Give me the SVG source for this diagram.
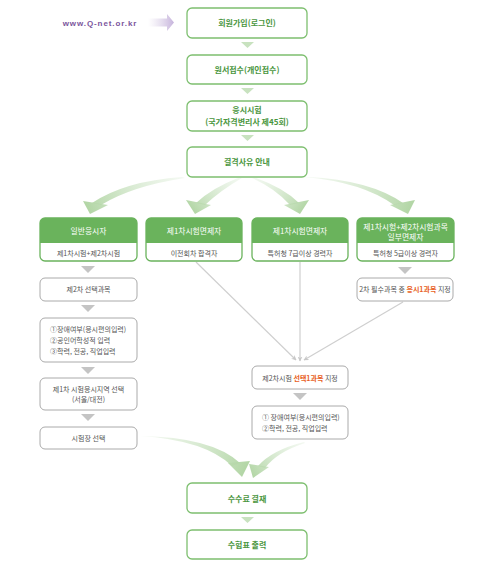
<svg xmlns="http://www.w3.org/2000/svg" width="500" height="567" viewBox="0 0 500 567">
<defs>
<style>
.gb{fill:#fff;stroke:#7dbf6f;stroke-width:1.3}
.gt{font-family:"Noto Sans CJK KR","Liberation Sans",sans-serif;font-size:8px;font-weight:bold;fill:#4a9640;text-anchor:middle}
.hb{fill:#fff;stroke:#6ab35c;stroke-width:1.3}
.hh{fill:#6ab35c}
.ht{font-family:"Noto Sans CJK KR","Liberation Sans",sans-serif;font-size:7.8px;fill:#fff;text-anchor:middle}
.st{font-family:"Noto Sans CJK KR","Liberation Sans",sans-serif;font-size:7px;fill:#555;text-anchor:middle}
.sl{font-family:"Noto Sans CJK KR","Liberation Sans",sans-serif;font-size:7px;fill:#555}
.ab{fill:#fff;stroke:#aaa;stroke-width:1}
.or{fill:#e8601c;font-weight:bold}
.tg{fill:#c8e2bf}
.tr{fill:#c4c4c4}
.ln{stroke:#cfcfcf;stroke-width:1.2;fill:none;marker-end:url(#ah)}
</style>
<marker id="ah" viewBox="0 0 10 10" refX="9" refY="5" markerWidth="5" markerHeight="5" orient="auto" markerUnits="userSpaceOnUse">
<path d="M0,0 L10,5 L0,10 L3,5 Z" fill="#c8c8c8"/>
</marker>
<linearGradient id="pu" x1="148" y1="0" x2="174" y2="0" gradientUnits="userSpaceOnUse">
<stop offset="0" stop-color="#d9cfe6" stop-opacity="0"/>
<stop offset="1" stop-color="#c6b3dc"/>
</linearGradient>
<linearGradient id="g1" x1="182" y1="177" x2="90" y2="214" gradientUnits="userSpaceOnUse">
<stop offset="0" stop-color="#d8ead2" stop-opacity="0.3"/><stop offset="1" stop-color="#b3d6a6"/></linearGradient>
<linearGradient id="g2" x1="240" y1="178" x2="195" y2="214" gradientUnits="userSpaceOnUse">
<stop offset="0" stop-color="#d8ead2" stop-opacity="0.3"/><stop offset="1" stop-color="#b3d6a6"/></linearGradient>
<linearGradient id="g3" x1="254" y1="178" x2="300" y2="214" gradientUnits="userSpaceOnUse">
<stop offset="0" stop-color="#d8ead2" stop-opacity="0.3"/><stop offset="1" stop-color="#b3d6a6"/></linearGradient>
<linearGradient id="g4" x1="307" y1="177" x2="408" y2="214" gradientUnits="userSpaceOnUse">
<stop offset="0" stop-color="#d8ead2" stop-opacity="0.3"/><stop offset="1" stop-color="#b3d6a6"/></linearGradient>
<linearGradient id="g5" x1="140" y1="436" x2="242" y2="477" gradientUnits="userSpaceOnUse">
<stop offset="0" stop-color="#d8ead2" stop-opacity="0.3"/><stop offset="1" stop-color="#b3d6a6"/></linearGradient>
<linearGradient id="g6" x1="304" y1="442" x2="253" y2="477" gradientUnits="userSpaceOnUse">
<stop offset="0" stop-color="#d8ead2" stop-opacity="0.3"/><stop offset="1" stop-color="#b3d6a6"/></linearGradient>
</defs>
<rect width="500" height="567" fill="#fff"/>

<g id="connectors">
<path d="M148,18.5 H167 V14 L174,22.5 L167,31 V26.5 H148 Z" fill="url(#pu)"/>
<polygon class="tg" points="241,42 254,42 247.5,48"/>
<polygon class="tg" points="241,88 254,88 247.5,94"/>
<polygon class="tg" points="241,135 254,135 247.5,141"/>
<path d="M182,177 Q125,181 92,203 L101,205 Q132,186 185,178 Z" fill="url(#g1)"/>
<path d="M83,201 L108,205 L90,214 Z" fill="url(#g1)"/>
<path d="M238,178 Q212,188 196,203 L205,205 Q221,190 242,178 Z" fill="url(#g2)"/>
<path d="M186,200 L211,205 L195,214 Z" fill="url(#g2)"/>
<path d="M252,178 Q275,188 290,205 L299,203 Q284,188 256,178 Z" fill="url(#g3)"/>
<path d="M284,205 L309,200 L300,214 Z" fill="url(#g3)"/>
<path d="M304,177 Q362,182 394,205 L403,203 Q370,180 308,177 Z" fill="url(#g4)"/>
<path d="M390,205 L415,200 L408,214 Z" fill="url(#g4)"/>
<polygon class="tr" points="81,266 95,266 88,273"/>
<polygon class="tr" points="81,305 95,305 88,312"/>
<polygon class="tr" points="81,367 95,367 88,374"/>
<polygon class="tr" points="81,414 95,414 88,421"/>
<polygon class="tr" points="398,267 412,267 405,274"/>
<polygon class="tr" points="293,393 307,393 300,400"/>
<line class="ln" x1="196" y1="262" x2="296" y2="360"/>
<line class="ln" x1="300" y1="262" x2="300" y2="361"/>
<line class="ln" x1="403" y1="302" x2="304" y2="360"/>
<path d="M140,436 Q205,440 232,466 L240,463 Q212,437 140,436 Z" fill="url(#g5)"/>
<path d="M228,463 L250,461 L242,477 Z" fill="url(#g5)"/>
<path d="M304,442 Q272,450 258,466 L265,468 Q277,452 305,443 Z" fill="url(#g6)"/>
<path d="M249,464 L269,467 L253,478 Z" fill="url(#g6)"/>
<polygon class="tg" points="241,517 254,517 247.5,523"/>
</g>

<g id="qnet"><text x="100" y="25.5" font-family="Liberation Sans, sans-serif" font-size="8" font-weight="bold" fill="#7b559c" text-anchor="middle" letter-spacing="0.9">www.Q-net.or.kr</text></g>

<g id="n1"><rect class="gb" x="187" y="8" width="120" height="30" rx="5"/><text class="gt" x="247" y="26">회원가입(로그인)</text></g>
<g id="n2"><rect class="gb" x="187" y="55" width="120" height="29" rx="5"/><text class="gt" x="247" y="72.5">원서접수(개인접수)</text></g>
<g id="n3"><rect class="gb" x="187" y="101" width="120" height="30" rx="5"/><text class="gt" x="247" y="113">응시시험</text><text class="gt" x="247" y="124.5">(국가자격변리사 제45회)</text></g>
<g id="n4"><rect class="gb" x="187" y="147" width="120" height="30" rx="5"/><text class="gt" x="247" y="165">결격사유 안내</text></g>

<g id="hA"><rect class="hb" x="40" y="218" width="97" height="43" rx="5"/><path class="hh" d="M40,243 V223 A5,5 0 0 1 45,218 H132 A5,5 0 0 1 137,223 V243 Z"/><text class="ht" x="88.5" y="234">일반응시자</text><text class="st" x="88.5" y="255.5">제1차시험+제2차시험</text></g>
<g id="hB"><rect class="hb" x="146" y="218" width="96" height="43" rx="5"/><path class="hh" d="M146,243 V223 A5,5 0 0 1 151,218 H237 A5,5 0 0 1 242,223 V243 Z"/><text class="ht" x="194" y="234">제1차시험면제자</text><text class="st" x="194" y="255.5">이전회차 합격자</text></g>
<g id="hC"><rect class="hb" x="252" y="218" width="96" height="43" rx="5"/><path class="hh" d="M252,243 V223 A5,5 0 0 1 257,218 H343 A5,5 0 0 1 348,223 V243 Z"/><text class="ht" x="300" y="234">제1차시험면제자</text><text class="st" x="300" y="255.5">특허청 7급이상 경력자</text></g>
<g id="hD"><rect class="hb" x="357" y="218" width="97" height="43" rx="5"/><path class="hh" d="M357,243 V223 A5,5 0 0 1 362,218 H449 A5,5 0 0 1 454,223 V243 Z"/><text class="ht" x="405.5" y="229.5">제1차시험+제2차시험과목</text><text class="ht" x="405.5" y="239.5">일부면제자</text><text class="st" x="405.5" y="255.5">특허청 5급이상 경력자</text></g>

<g id="a1"><rect class="ab" x="40" y="278" width="97" height="23" rx="5"/><text class="st" x="88.5" y="292">제2차 선택과목</text></g>
<g id="a2"><rect class="ab" x="40" y="318" width="97" height="44" rx="5"/><text class="sl" x="50" y="331.5">①장애여부(응시편의입력)</text><text class="sl" x="50" y="342.5">②공인어학성적 입력</text><text class="sl" x="50" y="353.5">③학력, 전공, 직업입력</text></g>
<g id="a3"><rect class="ab" x="40" y="378" width="97" height="32" rx="5"/><text class="st" x="88.5" y="392">제1차 시험응시지역 선택</text><text class="st" x="88.5" y="402">(서울/대전)</text></g>
<g id="a4"><rect class="ab" x="40" y="427" width="97" height="22" rx="5"/><text class="st" x="88.5" y="440.5">시험장 선택</text></g>

<g id="d1"><rect class="ab" x="357" y="278" width="96" height="23" rx="5"/><text class="st" x="405" y="292" font-size="6.8">2차 필수과목 중 <tspan class="or">응시1과목</tspan> 지정</text></g>
<g id="c1"><rect class="ab" x="252" y="366" width="96" height="23" rx="5"/><text class="st" x="300" y="380.5">제2차시험 <tspan class="or">선택1과목</tspan> 지정</text></g>
<g id="c2"><rect class="ab" x="252" y="406" width="96" height="33" rx="5"/><text class="sl" x="262" y="419.5">① 장애여부(응시편의입력)</text><text class="sl" x="262" y="430.5">②학력, 전공, 직업입력</text></g>

<g id="n5"><rect class="gb" x="187" y="483" width="120" height="30" rx="5"/><text class="gt" x="247" y="501.5">수수료 결재</text></g>
<g id="n6"><rect class="gb" x="187" y="530" width="120" height="29" rx="5"/><text class="gt" x="247" y="548">수험표 출력</text></g>
</svg>
